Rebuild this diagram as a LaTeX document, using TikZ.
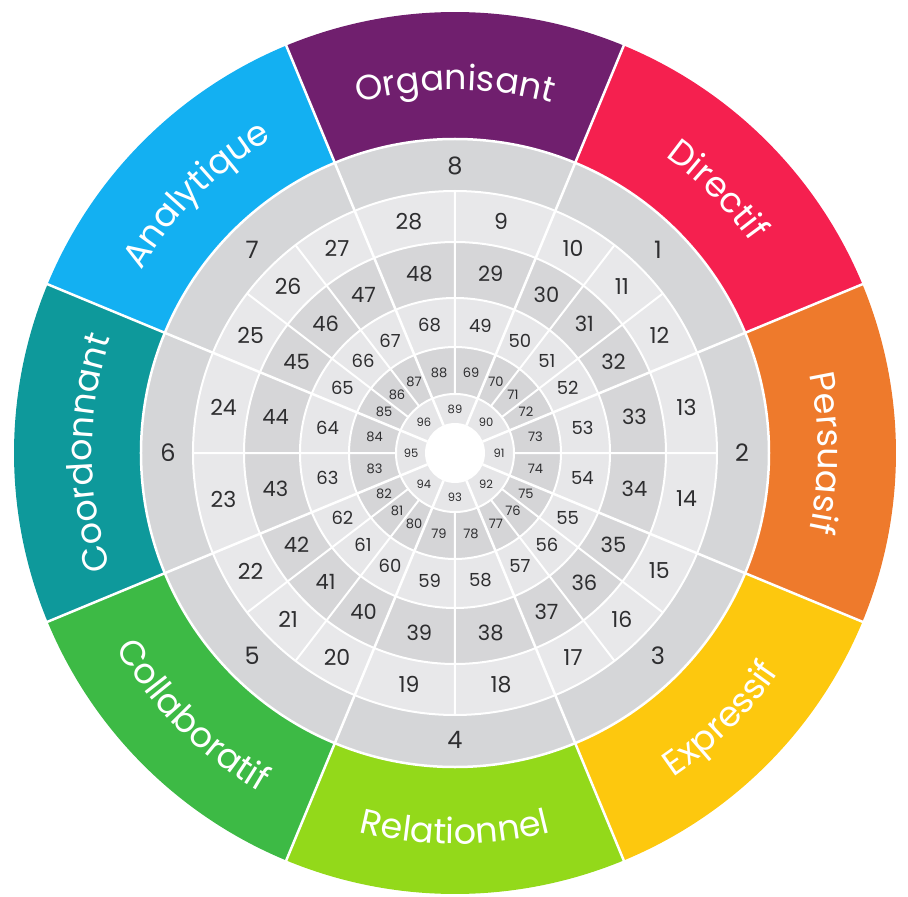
\documentclass[tikz,border=0pt]{standalone}
\usepackage{fontspec}
\setmainfont{Poppins}
\usetikzlibrary{decorations.text}

\definecolor{organisant}{HTML}{701F6E}
\definecolor{directif}{HTML}{F5204F}
\definecolor{persuasif}{HTML}{EE7A2C}
\definecolor{expressif}{HTML}{FDC80E}
\definecolor{relationnel}{HTML}{93D91A}
\definecolor{collaboratif}{HTML}{3DBA45}
\definecolor{coordonnant}{HTML}{0E999B}
\definecolor{analytique}{HTML}{13B0F2}
\definecolor{ringA}{HTML}{D5D6D8}
\definecolor{ringB}{HTML}{E8E8EA}
\definecolor{ringC}{HTML}{D6D6D8}
\definecolor{ringD}{HTML}{E7E7E9}
\definecolor{ringE}{HTML}{D5D5D7}
\definecolor{ringF}{HTML}{E6E6E8}
\definecolor{numgray}{HTML}{2E2E30}

\newcommand\seclabelfont{\fontsize{35}{40}\selectfont}

\begin{document}
\begin{tikzpicture}[x=1pt, y=1pt,
    cellline/.style={white, line width=2pt},
    secline/.style={white, line width=2.5pt},
    num1/.style={text=numgray, inner sep=0pt, font=\fontsize{24}{24}\selectfont},
    num2/.style={text=numgray, inner sep=0pt, font=\fontsize{22}{22}\selectfont},
    num3/.style={text=numgray, inner sep=0pt, font=\fontsize{21}{21}\selectfont},
    num4/.style={text=numgray, inner sep=0pt, font=\fontsize{18}{18}\selectfont},
    num5/.style={text=numgray, inner sep=0pt, font=\fontsize{13}{13}\selectfont},
    num6/.style={text=numgray, inner sep=0pt, font=\fontsize{11.5}{11.5}\selectfont},
    seclabel/.style={decorate, decoration={text along path, text align=center, text color=white}}]

    \useasboundingbox (-455,-444) rectangle (453,453);

    % colour sectors
    \fill[organisant]   (0,0) -- (67.5:441pt)  arc[start angle=67.5,  end angle=112.5, radius=441pt] -- cycle;
    \fill[directif]     (0,0) -- (22.5:441pt)  arc[start angle=22.5,  end angle=67.5,  radius=441pt] -- cycle;
    \fill[persuasif]    (0,0) -- (-22.5:441pt) arc[start angle=-22.5, end angle=22.5,  radius=441pt] -- cycle;
    \fill[expressif]    (0,0) -- (-67.5:441pt) arc[start angle=-67.5, end angle=-22.5, radius=441pt] -- cycle;
    \fill[relationnel]  (0,0) -- (-112.5:441pt) arc[start angle=-112.5, end angle=-67.5, radius=441pt] -- cycle;
    \fill[collaboratif] (0,0) -- (-157.5:441pt) arc[start angle=-157.5, end angle=-112.5, radius=441pt] -- cycle;
    \fill[coordonnant]  (0,0) -- (157.5:441pt) arc[start angle=157.5, end angle=202.5, radius=441pt] -- cycle;
    \fill[analytique]   (0,0) -- (112.5:441pt) arc[start angle=112.5, end angle=157.5, radius=441pt] -- cycle;

    % grey rings
    \fill[ringA] (0,0) circle[radius=314pt];
    \fill[ringB] (0,0) circle[radius=262pt];
    \fill[ringC] (0,0) circle[radius=211pt];
    \fill[ringD] (0,0) circle[radius=155pt];
    \fill[ringE] (0,0) circle[radius=106pt];
    \fill[ringF] (0,0) circle[radius=59pt];
    \fill[white] (0,0) circle[radius=30pt];

    \draw[secline]  (0,0) circle[radius=314pt];
    \draw[cellline] (0,0) circle[radius=262pt];
    \draw[cellline] (0,0) circle[radius=211pt];
    \draw[cellline] (0,0) circle[radius=155pt];
    \draw[cellline] (0,0) circle[radius=106pt];
    \draw[cellline] (0,0) circle[radius=59pt];

    % sector borders
    \draw[secline] (22.5:30pt) -- (22.5:445pt)   (67.5:30pt) -- (67.5:445pt)
                   (112.5:30pt) -- (112.5:445pt) (157.5:30pt) -- (157.5:445pt)
                   (202.5:30pt) -- (202.5:445pt) (247.5:30pt) -- (247.5:445pt)
                   (292.5:30pt) -- (292.5:445pt) (337.5:30pt) -- (337.5:445pt);
    % cell borders
    \draw[cellline] (0:59pt) -- (0:262pt)     (37.5:59pt) -- (37.5:262pt)   (52.5:59pt) -- (52.5:262pt)
                    (90:59pt) -- (90:262pt)   (127.5:59pt) -- (127.5:262pt) (142.5:59pt) -- (142.5:262pt)
                    (180:59pt) -- (180:262pt) (217.5:59pt) -- (217.5:262pt) (232.5:59pt) -- (232.5:262pt)
                    (270:59pt) -- (270:262pt) (307.5:59pt) -- (307.5:262pt) (322.5:59pt) -- (322.5:262pt);

    % sector names
    \path[seclabel, decoration={text={|\seclabelfont|Organisant}}]   (112.5:363pt) arc[start angle=112.5, end angle=67.5, radius=363pt];
    \path[seclabel, decoration={text={|\seclabelfont|Directif}}]     (67.5:363pt) arc[start angle=67.5, end angle=22.5, radius=363pt];
    \path[seclabel, decoration={text={|\seclabelfont|Persuasif}}]    (22.5:363pt) arc[start angle=22.5, end angle=-22.5, radius=363pt];
    \path[seclabel, decoration={text={|\seclabelfont|Expressif}}]    (-67.5:391pt) arc[start angle=-67.5, end angle=-22.5, radius=391pt];
    \path[seclabel, decoration={text={|\seclabelfont|Relationnel}}]  (-112.5:391pt) arc[start angle=-112.5, end angle=-67.5, radius=391pt];
    \path[seclabel, decoration={text={|\seclabelfont|Collaboratif}}] (-157.5:391pt) arc[start angle=-157.5, end angle=-112.5, radius=391pt];
    \path[seclabel, decoration={text={|\seclabelfont|Coordonnant}}]  (202.5:363pt) arc[start angle=202.5, end angle=157.5, radius=363pt];
    \path[seclabel, decoration={text={|\seclabelfont|Analytique}}]   (157.5:363pt) arc[start angle=157.5, end angle=112.5, radius=363pt];

    % ring 1
    \node[num1] (n1) at (45:287pt)   {1};
    \node[num1] (n2) at (0:287pt)    {2};
    \node[num1] (n3) at (-45:287pt)  {3};
    \node[num1] (n4) at (-90:287pt)  {4};
    \node[num1] (n5) at (-135:287pt) {5};
    \node[num1] (n6) at (180:287pt)  {6};
    \node[num1] (n7) at (135:287pt)  {7};
    \node[num1] (n8) at (90:287pt)   {8};

    % ring 2
    \node[num2] (n9)  at (78.75:236pt)   {9};
    \node[num2] (n10) at (60:236pt)      {10};
    \node[num2] (n11) at (45:236pt)      {11};
    \node[num2] (n12) at (30:236pt)      {12};
    \node[num2] (n13) at (11.25:236pt)   {13};
    \node[num2] (n14) at (-11.25:236pt)  {14};
    \node[num2] (n15) at (-30:236pt)     {15};
    \node[num2] (n16) at (-45:236pt)     {16};
    \node[num2] (n17) at (-60:236pt)     {17};
    \node[num2] (n18) at (-78.75:236pt)  {18};
    \node[num2] (n19) at (-101.25:236pt) {19};
    \node[num2] (n20) at (-120:236pt)    {20};
    \node[num2] (n21) at (-135:236pt)    {21};
    \node[num2] (n22) at (-150:236pt)    {22};
    \node[num2] (n23) at (-168.75:236pt) {23};
    \node[num2] (n24) at (168.75:236pt)  {24};
    \node[num2] (n25) at (150:236pt)     {25};
    \node[num2] (n26) at (135:236pt)     {26};
    \node[num2] (n27) at (120:236pt)     {27};
    \node[num2] (n28) at (101.25:236pt)  {28};

    % ring 3
    \node[num3] (n29) at (78.75:183pt)   {29};
    \node[num3] (n30) at (60:183pt)      {30};
    \node[num3] (n31) at (45:183pt)      {31};
    \node[num3] (n32) at (30:183pt)      {32};
    \node[num3] (n33) at (11.25:183pt)   {33};
    \node[num3] (n34) at (-11.25:183pt)  {34};
    \node[num3] (n35) at (-30:183pt)     {35};
    \node[num3] (n36) at (-45:183pt)     {36};
    \node[num3] (n37) at (-60:183pt)     {37};
    \node[num3] (n38) at (-78.75:183pt)  {38};
    \node[num3] (n39) at (-101.25:183pt) {39};
    \node[num3] (n40) at (-120:183pt)    {40};
    \node[num3] (n41) at (-135:183pt)    {41};
    \node[num3] (n42) at (-150:183pt)    {42};
    \node[num3] (n43) at (-168.75:183pt) {43};
    \node[num3] (n44) at (168.75:183pt)  {44};
    \node[num3] (n45) at (150:183pt)     {45};
    \node[num3] (n46) at (135:183pt)     {46};
    \node[num3] (n47) at (120:183pt)     {47};
    \node[num3] (n48) at (101.25:183pt)  {48};

    % ring 4
    \node[num4] (n49) at (78.75:130pt)   {49};
    \node[num4] (n50) at (60:130pt)      {50};
    \node[num4] (n51) at (45:130pt)      {51};
    \node[num4] (n52) at (30:130pt)      {52};
    \node[num4] (n53) at (11.25:130pt)   {53};
    \node[num4] (n54) at (-11.25:130pt)  {54};
    \node[num4] (n55) at (-30:130pt)     {55};
    \node[num4] (n56) at (-45:130pt)     {56};
    \node[num4] (n57) at (-60:130pt)     {57};
    \node[num4] (n58) at (-78.75:130pt)  {58};
    \node[num4] (n59) at (-101.25:130pt) {59};
    \node[num4] (n60) at (-120:130pt)    {60};
    \node[num4] (n61) at (-135:130pt)    {61};
    \node[num4] (n62) at (-150:130pt)    {62};
    \node[num4] (n63) at (-168.75:130pt) {63};
    \node[num4] (n64) at (168.75:130pt)  {64};
    \node[num4] (n65) at (150:130pt)     {65};
    \node[num4] (n66) at (135:130pt)     {66};
    \node[num4] (n67) at (120:130pt)     {67};
    \node[num4] (n68) at (101.25:130pt)  {68};

    % ring 5
    \node[num5] (n69) at (78.75:82pt)   {69};
    \node[num5] (n70) at (60:82pt)      {70};
    \node[num5] (n71) at (45:82pt)      {71};
    \node[num5] (n72) at (30:82pt)      {72};
    \node[num5] (n73) at (11.25:82pt)   {73};
    \node[num5] (n74) at (-11.25:82pt)  {74};
    \node[num5] (n75) at (-30:82pt)     {75};
    \node[num5] (n76) at (-45:82pt)     {76};
    \node[num5] (n77) at (-60:82pt)     {77};
    \node[num5] (n78) at (-78.75:82pt)  {78};
    \node[num5] (n79) at (-101.25:82pt) {79};
    \node[num5] (n80) at (-120:82pt)    {80};
    \node[num5] (n81) at (-135:82pt)    {81};
    \node[num5] (n82) at (-150:82pt)    {82};
    \node[num5] (n83) at (-168.75:82pt) {83};
    \node[num5] (n84) at (168.75:82pt)  {84};
    \node[num5] (n85) at (150:82pt)     {85};
    \node[num5] (n86) at (135:82pt)     {86};
    \node[num5] (n87) at (120:82pt)     {87};
    \node[num5] (n88) at (101.25:82pt)  {88};

    % ring 6
    \node[num6] (n89) at (90:44pt)   {89};
    \node[num6] (n90) at (45:44pt)   {90};
    \node[num6] (n91) at (0:44pt)    {91};
    \node[num6] (n92) at (-45:44pt)  {92};
    \node[num6] (n93) at (-90:44pt)  {93};
    \node[num6] (n94) at (-135:44pt) {94};
    \node[num6] (n95) at (180:44pt)  {95};
    \node[num6] (n96) at (135:44pt)  {96};
\end{tikzpicture}
\end{document}
